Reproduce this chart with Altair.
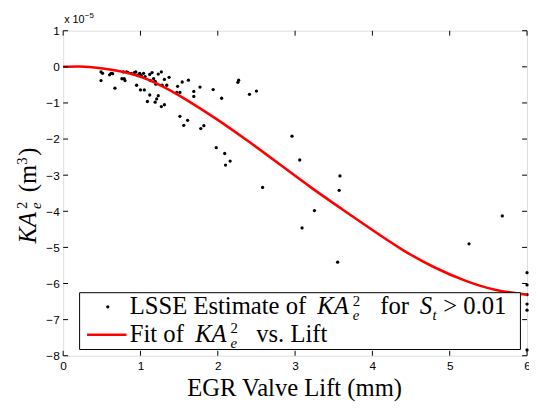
import altair as alt
import pandas as pd

# LSSE estimates (x: EGR valve lift in mm, y: KA_e^2 in units of 1e-5 m^3)
lift = [0.49, 0.51, 0.49, 0.60, 0.62, 0.64, 0.67, 0.76, 0.79, 0.80,
        0.78, 0.82, 0.84, 0.88, 0.92, 0.94, 0.96, 0.99, 1.01, 1.04,
        1.06, 0.95, 1.00, 1.05, 1.09, 1.12, 1.12, 1.15, 1.13, 1.17,
        1.19, 1.20, 1.23, 1.21, 1.19, 1.23, 1.27, 1.28, 1.27, 1.31,
        1.31, 1.34, 1.37, 1.47, 1.48, 1.51, 1.54, 1.62, 1.51, 1.56,
        1.61, 1.69, 1.69, 1.77, 1.78, 1.82, 1.94, 1.98, 2.05, 2.26,
        2.27, 2.41, 2.50, 2.09, 2.16, 2.10, 2.96, 3.06, 2.58, 3.58,
        3.57, 3.25, 3.09, 3.55, 5.68, 5.25, 6.00, 6.00, 6.00, 6.00,
        6.00, 6.00]
ka2 = [-0.14, -0.18, -0.38, -0.22, -0.18, -0.19, -0.59, -0.33, -0.33, -0.38,
       -0.14, -0.14, -0.16, -0.18, -0.16, -0.14, -0.23, -0.18, -0.24, -0.18,
       -0.27, -0.51, -0.64, -0.64, -0.96, -0.78, -0.21, -0.16, -0.38, -0.33,
       -0.40, -0.48, -0.80, -0.89, -0.98, -0.20, -0.14, -0.51, -1.10, -1.05,
       -0.35, -0.51, -0.29, -0.71, -0.54, -0.71, -0.42, -0.37, -1.37, -1.62,
       -1.48, -0.68, -0.82, -0.56, -1.71, -1.63, -0.63, -2.24, -0.87, -0.43,
       -0.37, -0.76, -0.67, -2.40, -2.61, -2.72, -1.92, -2.58, -3.34, -3.02,
       -3.42, -3.98, -4.46, -5.41, -4.13, -4.90, -5.70, -6.04, -6.31, -6.57,
       -6.74, -7.84]

# Fitted curve
fit_lift = [0.0, 0.2, 0.4, 0.8, 1.2, 1.6, 2.0, 2.4, 2.8, 3.2,
            3.6, 4.0, 4.4, 4.8, 5.2, 5.6, 6.0]
fit_ka2 = [0.0, 0.01, -0.02, -0.15, -0.45, -0.92, -1.47, -2.07, -2.70, -3.33,
           -3.93, -4.52, -5.08, -5.55, -5.92, -6.18, -6.31]

x_ticks = [0, 1, 2, 3, 4, 5, 6]
y_ticks = [-8, -7, -6, -5, -4, -3, -2, -1, 0, 1]

W, H = 471, 330
SERIF = "Liberation Serif"
SANS = "Liberation Sans"

xs = alt.Scale(domain=[0, 6], nice=False, zero=False)
ys = alt.Scale(domain=[-8, 1], nice=False, zero=False)

x_axis = alt.Axis(values=x_ticks, format="d", grid=False, ticks=False, domain=False,
                  labelFont=SANS, labelFontSize=12, labelColor="black",
                  labelPadding=5, labelFlush=False, title=None)
y_axis = alt.Axis(values=y_ticks, format="d", grid=False, ticks=False, domain=False,
                  labelFont=SANS, labelFontSize=12, labelColor="black",
                  labelPadding=4, labelFlush=False, title=None)

pts = pd.DataFrame({"lift": lift, "ka2": ka2})
fit = pd.DataFrame({"lift": fit_lift, "ka2": fit_ka2})
xt = pd.DataFrame({"v": x_ticks})
yt = pd.DataFrame({"v": y_ticks})
one = pd.DataFrame({"a": [0]})

scatter = alt.Chart(pts).mark_circle(size=11, color="black", opacity=1).encode(
    x=alt.X("lift:Q", scale=xs, axis=x_axis),
    y=alt.Y("ka2:Q", scale=ys, axis=y_axis),
)
curve = alt.Chart(fit).mark_line(color="#ff0000", strokeWidth=2.6, interpolate="natural").encode(
    x=alt.X("lift:Q", scale=xs, axis=x_axis),
    y=alt.Y("ka2:Q", scale=ys, axis=y_axis),
)

TL = 5
xtb = alt.Chart(xt).mark_rule(color="black", strokeWidth=1).encode(
    x=alt.X("v:Q", scale=xs, axis=x_axis), y=alt.value(H), y2=alt.value(H - TL))
xtt = alt.Chart(xt).mark_rule(color="black", strokeWidth=1).encode(
    x=alt.X("v:Q", scale=xs, axis=x_axis), y=alt.value(0), y2=alt.value(TL))
ytl = alt.Chart(yt).mark_rule(color="black", strokeWidth=1).encode(
    y=alt.Y("v:Q", scale=ys, axis=y_axis), x=alt.value(0), x2=alt.value(TL))
ytr = alt.Chart(yt).mark_rule(color="black", strokeWidth=1).encode(
    y=alt.Y("v:Q", scale=ys, axis=y_axis), x=alt.value(W), x2=alt.value(W - TL))


def txt(s, x, y, size=25, style="normal", font=SERIF, angle=0, align="left", baseline="alphabetic"):
    kw = dict(text=s, font=font, fontSize=size, fontStyle=style, color="black",
              align=align, baseline=baseline)
    if angle:
        kw["angle"] = angle
    return alt.Chart(one).mark_text(**kw).encode(x=alt.value(x), y=alt.value(y))


# legend box
leg_box = alt.Chart(one).mark_rect(fill="white", stroke="black", strokeWidth=1).encode(
    x=alt.value(16.7), x2=alt.value(464.3), y=alt.value(266), y2=alt.value(323.7))
leg_dot = alt.Chart(one).mark_circle(size=11, color="black", opacity=1).encode(
    x=alt.value(45.3), y=alt.value(280.3))
leg_line = alt.Chart(one).mark_rule(color="#ff0000", strokeWidth=2.6).encode(
    x=alt.value(24.3), x2=alt.value(64.3), y=alt.value(308.7))

r1, r2 = 288, 316
legend_texts = [
    txt("LSSE Estimate of", 67.7, r1),
    txt("KA", 258, r1, style="italic"),
    txt("2", 294, r1 - 9, size=15),
    txt("e", 294, r1 + 5.5, size=15, style="italic"),
    txt("for", 322, r1),
    txt("S", 362, r1, style="italic"),
    txt("t", 375, r1 + 5.5, size=15, style="italic"),
    txt("> 0.01", 386, r1),
    txt("Fit of", 67.7, r2),
    txt("KA", 134, r2, style="italic"),
    txt("2", 170, r2 - 9, size=15),
    txt("e", 170, r2 + 6, size=15, style="italic"),
    txt("vs. Lift", 196, r2),
]

# axis titles
x_title = txt("EGR Valve Lift (mm)", 235, 371.3, size=25, align="center")
y_title = [
    txt("KA", -28, 216, angle=270, style="italic"),
    txt("2", -37, 181, size=15, angle=270),
    txt("e", -22, 181, size=15, angle=270, style="italic"),
    txt("(m", -28, 164, angle=270),
    txt("3", -37, 136, size=15, angle=270),
    txt(")", -28, 127, angle=270),
]
exp_label = [
    txt("x 10", 1, -8, size=11, font=SANS),
    txt("\u22125", 22, -13, size=8, font=SANS),
]

chart = alt.layer(
    scatter, curve, xtb, xtt, ytl, ytr,
    leg_box, leg_dot, leg_line, *legend_texts,
    x_title, *y_title, *exp_label,
).properties(
    width=W, height=H,
    autosize=alt.AutoSizeParams(type="none"),
    padding={"left": 56, "top": 20, "right": 2, "bottom": 50},
).configure_view(
    stroke="black", strokeWidth=1.5
).configure(background="white")

chart.save("out.html", embed_options={"renderer": "svg", "actions": False})
